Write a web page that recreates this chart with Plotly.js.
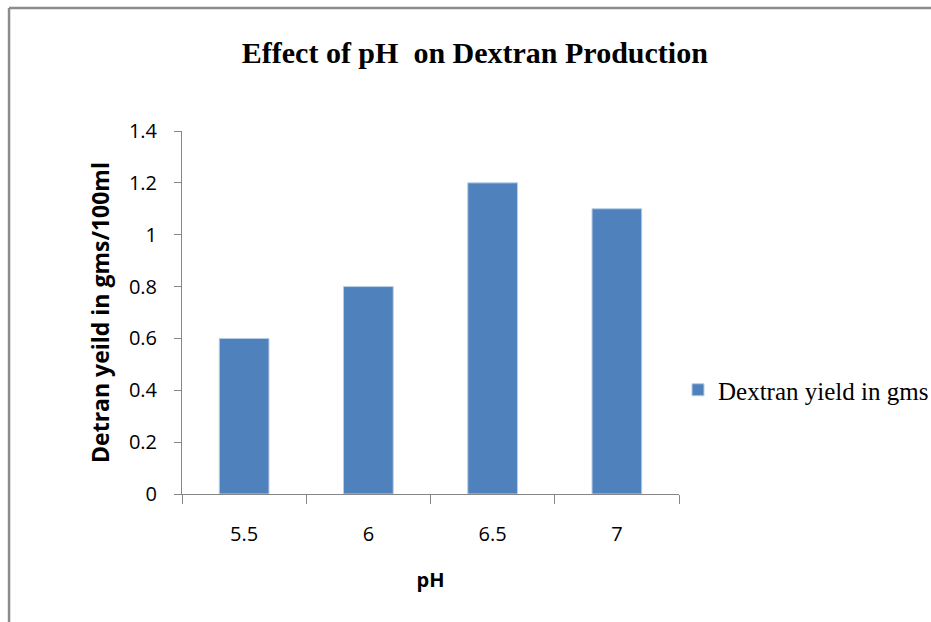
<!DOCTYPE html>
<html>
<head>
<meta charset="utf-8">
<script src="https://cdn.plot.ly/plotly-3.0.1.min.js"></script>
<style>
  html, body { margin: 0; padding: 0; background: #fff; }
  #chart { width: 931px; height: 622px; }
</style>
</head>
<body>
<div id="chart"></div>
<script>
const categories = ["5.5", "6", "6.5", "7"];
const dextranYield = [0.6, 0.8, 1.2, 1.1];
const seriesName = "Dextran yield in gms";
const chartTitle = "Effect of pH  on Dextran Production";
const xTitle = "pH";
const yTitle = "Detran yeild in gms/100ml";

const sansFont = "'Open Sans', 'DejaVu Sans', sans-serif";
const serifFont = "'Liberation Serif', 'Times New Roman', serif";

const trace = {
  type: "bar",
  x: categories,
  y: dextranYield,
  name: seriesName,
  showlegend: true,
  marker: { color: "#4F81BD", line: { color: "#B9CDE5", width: 1 } }
};

const layout = {
  width: 931,
  height: 622,
  paper_bgcolor: "#fff",
  plot_bgcolor: "#fff",
  margin: { l: 182, r: 252, t: 131, b: 128, autoexpand: false },
  bargap: 0.6,
  title: {
    text: "<b>" + chartTitle + "</b>",
    font: { family: serifFont, size: 30, color: "#000" },
    xref: "container", yref: "container",
    x: 0.51, xanchor: "center",
    y: 0.915, yanchor: "middle"
  },
  xaxis: {
    type: "category",
    tickson: "boundaries",
    ticks: "outside",
    ticklen: 9,
    tickcolor: "#868686",
    showline: true,
    linecolor: "#868686",
    linewidth: 1,
    showgrid: false,
    zeroline: false,
    ticklabelstandoff: 22,
    tickfont: { family: sansFont, size: 20, color: "#000" },
    title: { text: "<b>" + xTitle + "</b>", font: { family: sansFont, size: 20, color: "#000" }, standoff: 26 }
  },
  yaxis: {
    range: [0, 1.4],
    dtick: 0.2,
    ticks: "outside",
    ticklen: 7,
    tickcolor: "#868686",
    showline: true,
    linecolor: "#868686",
    linewidth: 1,
    showgrid: false,
    zeroline: false,
    ticklabelstandoff: 13,
    tickfont: { family: sansFont, size: 20, color: "#000" },
    title: { text: "<b>" + yTitle + "</b>", font: { family: sansFont, size: 23, color: "#000" }, standoff: 12 }
  },
  showlegend: true,
  legend: {
    x: 0.998, xanchor: "left",
    y: 0.2865, yanchor: "middle",
    bgcolor: "rgba(0,0,0,0)",
    font: { family: serifFont, size: 25, color: "#000" }
  },
  shapes: [
    { type: "line", xref: "paper", yref: "paper", x0: -0.348, x1: -0.348, y0: 1.339, y1: -0.4,
      line: { color: "#8c8c8c", width: 2.5 } },
    { type: "line", xref: "paper", yref: "paper", x0: -0.348, x1: 1.6, y0: 1.339, y1: 1.339,
      line: { color: "#8c8c8c", width: 2.5 } }
  ]
};

Plotly.newPlot("chart", [trace], layout, { displayModeBar: false, responsive: false });
</script>
</body>
</html>
